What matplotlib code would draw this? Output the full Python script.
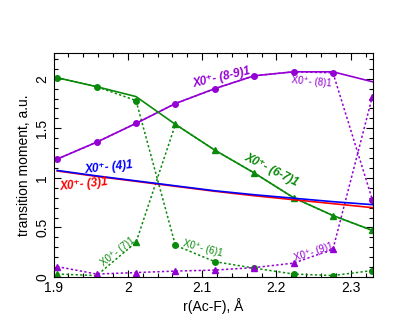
import numpy as np
import matplotlib
matplotlib.use("Agg")
import matplotlib.pyplot as plt
from matplotlib.ticker import MultipleLocator

plt.rcParams['font.family'] = ['Liberation Sans', 'DejaVu Sans']

# internuclear distances (3.6 ... 4.4 bohr in Angstrom)
r = [1.905, 1.958, 2.011, 2.064, 2.117, 2.170, 2.223, 2.276, 2.329]

# smooth (diabatic) curves
tm_89 = [1.19, 1.36, 1.55, 1.75, 1.90, 2.03, 2.07, 2.07, 1.97]
tm_67 = [2.01, 1.92, 1.82, 1.54, 1.28, 1.05, 0.80, 0.62, 0.47]
tm_4 = [1.075, 1.02, 0.97, 0.92, 0.87, 0.83, 0.795, 0.76, 0.73]
tm_3 = [1.07, 1.015, 0.965, 0.915, 0.865, 0.82, 0.78, 0.74, 0.70]

# adiabatic states
tm_6 = [2.01, 1.92, 1.78, 0.32, 0.155, 0.09, 0.03, 0.015, 0.065]
tm_7 = [0.03, 0.015, 0.35, 1.54, 1.28, 1.05, 0.80, 0.62, 0.47]
tm_8 = [1.19, 1.36, 1.55, 1.75, 1.90, 2.03, 2.07, 2.06, 0.78]
tm_9 = [0.105, 0.03, 0.045, 0.06, 0.07, 0.095, 0.14, 0.28, 1.82]

green = '#0a8a0a'
purple = '#9400d3'

fig = plt.figure(figsize=(4.15, 3.21), dpi=100)
ax = fig.add_axes([0.129, 0.137, 0.770, 0.698])

dot = (0, (1.5, 1.5))
ax.plot(r, tm_6, color=green, ls=dot, lw=1.1, marker='o', ms=4)
ax.plot(r, tm_7, color=green, ls=dot, lw=1.1, marker='^', ms=4)
ax.plot(r, tm_8, color=purple, ls=dot, lw=1.1, marker='o', ms=4)
ax.plot(r, tm_9, color=purple, ls=dot, lw=1.1, marker='^', ms=4)

ax.plot(r, tm_89, color=purple, lw=1.2)
ax.plot(r, tm_67, color=green, lw=1.2)
ax.plot(r, tm_3, color='red', lw=1.2)
ax.plot(r, tm_4, color='blue', lw=1.2)

ax.set_xlim(1.9, 2.33)
ax.set_ylim(0, 2.26)
ax.xaxis.set_minor_locator(MultipleLocator(0.02))
ax.yaxis.set_minor_locator(MultipleLocator(0.1))
ax.set_xticks([1.9, 2.0, 2.1, 2.2, 2.3])
ax.set_xticklabels(['1.9', '2', '2.1', '2.2', '2.3'])
ax.set_yticks([0, 0.5, 1, 1.5, 2])
ax.set_yticklabels(['0', '0.5', '1', '1.5', '2'], rotation=90, va='center')
ax.tick_params(which='both', direction='in', top=True, right=True, labelsize=10)
ax.tick_params(which='major', length=5, width=0.8)
ax.tick_params(which='minor', length=3, width=0.8)
ax.tick_params(axis='x', pad=3)
ax.tick_params(axis='y', pad=3)

ax.set_xlabel('r(Ac-F), Å', fontsize=10, labelpad=2)
ax.set_ylabel('transition moment, a.u.', fontsize=10, labelpad=3)

big = dict(fontsize=8.5, fontweight='bold', style='italic', ha='center', va='center')
small = dict(fontsize=7, ha='center', va='center')

ax.text(2.126, 2.01, 'X0⁺- (8-9)1', color=purple, rotation=13, **big)
ax.text(2.247, 1.97, 'X0⁺- (8)1', color=purple, rotation=-5, **small)
ax.text(2.193, 1.08, 'X0⁺- (6-7)1', color=green, rotation=-27, **big)
ax.text(1.975, 1.10, 'X0⁺- (4)1', color='blue', rotation=6, **big)
ax.text(1.941, 0.93, 'X0⁺- (3)1', color='red', rotation=6, **big)
ax.text(1.987, 0.26, 'X0⁺- (7)1', color=green, rotation=38, **small)
ax.text(2.101, 0.29, 'X0⁺- (6)1', color=green, rotation=-15, **small)
ax.text(2.25, 0.25, 'X0⁺- (9)1', color=purple, rotation=18, **small)

fig.savefig('out.png', dpi=100)
